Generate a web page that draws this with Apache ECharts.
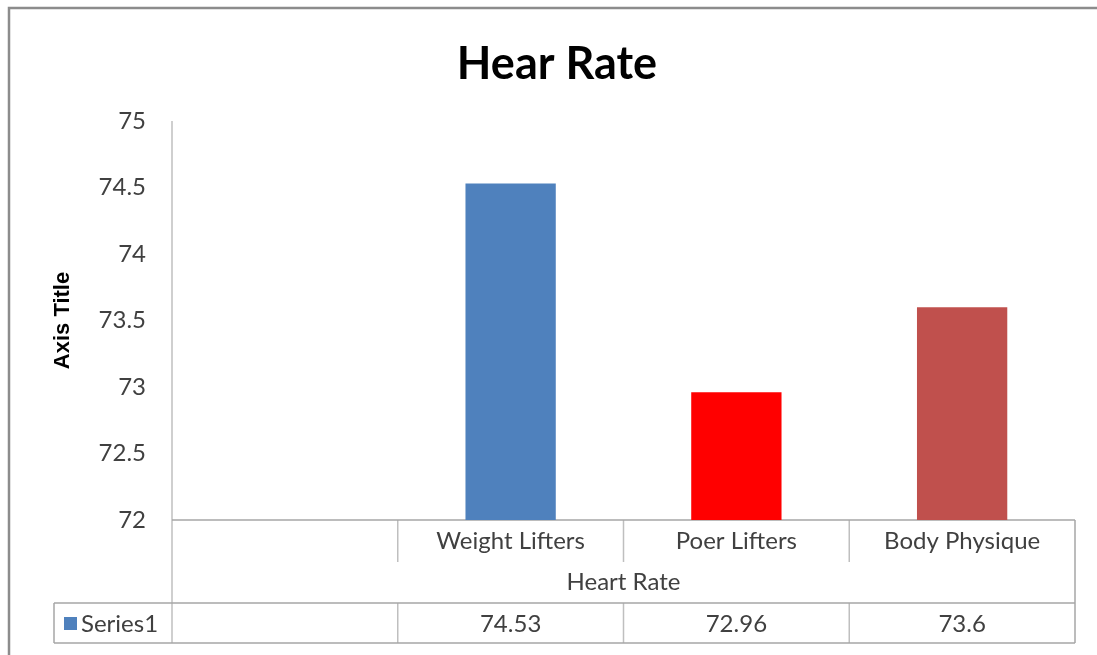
<!DOCTYPE html>
<html>
<head>
<meta charset="utf-8">
<script src="https://cdn.jsdelivr.net/npm/echarts@6/dist/echarts.min.js"></script>
<style>
  html, body { margin: 0; padding: 0; background: #fff; }
  #chart { width: 1097px; height: 655px; }
</style>
</head>
<body>
<div id="chart"></div>
<script>
// Heart rate by athlete group (first category column is empty)
const categories = ['', 'Weight Lifters', 'Poer Lifters', 'Body Physique'];
const heartRate = [null, 74.53, 72.96, 73.6];
const barColors = ['#4F81BD', '#4F81BD', '#FF0000', '#C0504D'];
const seriesName = 'Series1';
const yMin = 72, yMax = 75, yStep = 0.5;

const FONT = 'Lato, "Open Sans", sans-serif';
const FS = 24;
const TEXT = '#404040';
const LINE = '#BFBFBF';

const G = { left: 172, right: 22, top: 121, bottom: 135 };
const W = 1097, H = 655;
const plotL = G.left, plotR = W - G.right, plotB = H - G.bottom;
const rowCat = plotB + 42;    // bottom of category-label row
const rowName = plotB + 83;   // bottom of axis-name row
const rowVal = plotB + 123;   // bottom of values row
const tableLeft = 54;

const chart = echarts.init(document.getElementById('chart'), null, { renderer: 'canvas' });

function tableGraphics() {
  const n = categories.length;
  const cw = (plotR - plotL) / n;
  const els = [];
  const hLine = (x1, x2, y, c) => els.push({ type: 'line', shape: { x1, y1: y, x2, y2: y }, style: { stroke: c || LINE, lineWidth: 1.5 }, silent: true });
  const vLine = (x, y1, y2, c) => els.push({ type: 'line', shape: { x1: x, y1, x2: x, y2 }, style: { stroke: c || LINE, lineWidth: 1.5 }, silent: true });

  // outer chart border
  els.push({ type: 'rect', shape: { x: 9, y: 8, width: W + 20, height: H + 20 }, style: { fill: null, stroke: '#8C8C8C', lineWidth: 2.5 }, silent: true });

  // vertical axis line running through the data table
  vLine(plotL, G.top, rowVal);
  // right table edge
  vLine(plotR, plotB, rowVal, '#A6A6A6');
  // category separators
  for (let i = 1; i < n; i++) {
    const x = plotL + cw * i;
    vLine(x, plotB, rowCat);
    vLine(x, rowName, rowVal);
  }
  // horizontal table lines
  hLine(plotL, plotR, plotB, '#A6A6A6');
  hLine(tableLeft, plotR, rowName, '#A6A6A6');
  hLine(tableLeft, plotR, rowVal, '#A6A6A6');
  vLine(tableLeft, rowName, rowVal, '#A6A6A6');

  // values row
  const yMid = (rowName + rowVal) / 2 + 1;
  heartRate.forEach((v, i) => {
    if (v == null) return;
    const p = chart.convertToPixel({ xAxisIndex: 0 }, categories[i]);
    els.push({ type: 'text', x: p, y: yMid, silent: true,
      style: { text: String(v), fill: TEXT, font: FS + 'px ' + FONT, align: 'center', verticalAlign: 'middle' } });
  });

  // legend key with series name
  els.push({ type: 'rect', shape: { x: 64, y: yMid - 7, width: 13, height: 13 }, style: { fill: '#4F81BD' }, silent: true });
  els.push({ type: 'text', x: 81, y: yMid, silent: true,
    style: { text: seriesName, fill: TEXT, font: FS + 'px ' + FONT, align: 'left', verticalAlign: 'middle' } });
  return els;
}

chart.setOption({
  animation: false,
  backgroundColor: '#fff',
  title: {
    text: 'Hear Rate', left: 552, top: 37, textAlign: 'center',
    textStyle: { fontFamily: FONT, fontSize: 45, fontWeight: 'bold', color: '#000' }
  },
  grid: G,
  xAxis: {
    type: 'category',
    data: categories,
    name: 'Heart Rate',
    nameLocation: 'middle',
    nameGap: 50,
    nameTextStyle: { fontFamily: FONT, fontSize: FS, color: TEXT },
    axisLine: { show: false },
    axisTick: { show: false },
    axisLabel: { fontFamily: FONT, fontSize: FS, color: TEXT, margin: 9, interval: 0 }
  },
  yAxis: {
    type: 'value',
    min: yMin, max: yMax, interval: yStep,
    name: 'Axis Title',
    nameLocation: 'middle',
    nameGap: 98,
    nameRotate: 90,
    nameTextStyle: { fontFamily: 'Liberation Sans, Arial, sans-serif', fontSize: 22, fontWeight: 'bold', color: '#000' },
    axisLine: { show: false },
    axisTick: { show: false },
    splitLine: { show: false },
    axisLabel: { fontFamily: FONT, fontSize: FS, color: TEXT, margin: 26 }
  },
  series: [{
    name: seriesName,
    type: 'bar',
    barWidth: '40%',
    data: heartRate.map((v, i) => ({ value: v, itemStyle: { color: barColors[i] } }))
  }]
});

chart.setOption({ graphic: tableGraphics() });
</script>
</body>
</html>
